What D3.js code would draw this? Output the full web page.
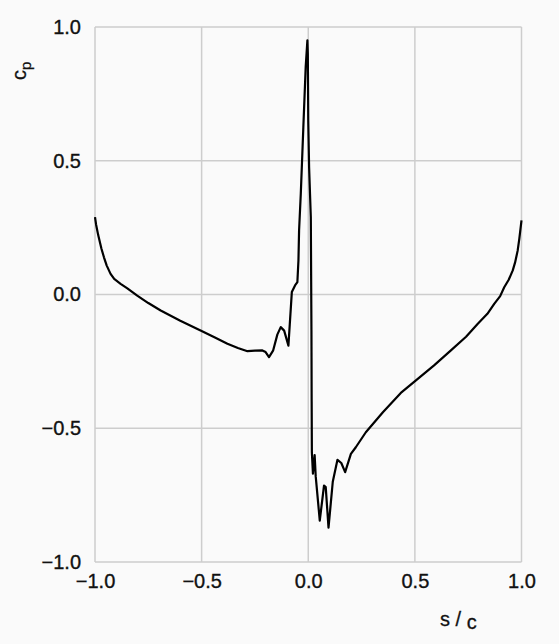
<!DOCTYPE html>
<html>
<head>
<meta charset="utf-8">
<script src="https://cdn.jsdelivr.net/npm/d3@7"></script>
<style>
  html, body { margin: 0; padding: 0; background: #fafafa; }
  svg { display: block; }
  text { font-family: "Liberation Sans", Arial, Helvetica, sans-serif; fill: #111; }
</style>
</head>
<body>
<svg id="chart" width="559" height="644"></svg>
<script>
// s/c positions along the surface
const sValues = [
  -1.0, -0.995, -0.985, -0.97, -0.958, -0.945, -0.927, -0.91, -0.88, -0.85,
  -0.802, -0.75, -0.692, -0.6, -0.505, -0.44, -0.379, -0.33, -0.285, -0.25,
  -0.215, -0.2, -0.184, -0.165, -0.145, -0.129, -0.113, -0.093,
  -0.077, -0.062, -0.051, -0.046, -0.043, -0.035, -0.023, -0.012, -0.004, -0.002,
  0.0, 0.004, 0.012, 0.015, 0.016, 0.017, 0.022, 0.030, 0.035, 0.054,
  0.074, 0.082, 0.095, 0.115, 0.137, 0.155, 0.173, 0.2, 0.223, 0.27,
  0.35, 0.434, 0.505, 0.59, 0.669, 0.74, 0.794, 0.84, 0.872, 0.9, 0.919, 0.94,
  0.959, 0.97, 0.982, 0.99, 1.0
];
// pressure coefficient c_p at each s/c
const cpValues = [
  0.289, 0.262, 0.222, 0.172, 0.139, 0.108, 0.077, 0.058, 0.040, 0.024,
  -0.004, -0.032, -0.060, -0.098, -0.135, -0.160, -0.184, -0.200, -0.212, -0.210,
  -0.209, -0.215, -0.234, -0.21, -0.15, -0.122, -0.135, -0.191,
  0.009, 0.034, 0.046, 0.127, 0.239, 0.376, 0.625, 0.85, 0.95, 0.90,
  0.65, 0.476, 0.289, -0.135, -0.40, -0.59, -0.67, -0.60, -0.68, -0.845,
  -0.714, -0.72, -0.872, -0.70, -0.618, -0.63, -0.664, -0.596, -0.571, -0.515,
  -0.44, -0.368, -0.321, -0.265, -0.209, -0.158, -0.110, -0.072, -0.035, -0.006, 0.027, 0.055,
  0.090, 0.120, 0.164, 0.210, 0.277
];
const xTicks = [-1.0, -0.5, 0.0, 0.5, 1.0];
const yTicks = [-1.0, -0.5, 0.0, 0.5, 1.0];

const margin = { left: 95, right: 559 - 521.5, top: 27, bottom: 644 - 562 };
const W = 559, H = 644;
const svg = d3.select("#chart");

const x = d3.scaleLinear().domain([-1, 1]).range([margin.left, W - margin.right]);
const y = d3.scaleLinear().domain([-1, 1]).range([H - margin.bottom, margin.top]);

const fmt = v => (v < 0 ? "\u2212" : "") + Math.abs(v).toFixed(1);

// grid
const grid = svg.append("g").attr("stroke", "#cdcdcd").attr("stroke-width", 1.5);
grid.selectAll("line.v").data(xTicks).join("line")
  .attr("x1", d => x(d)).attr("x2", d => x(d))
  .attr("y1", y(-1)).attr("y2", y(1));
grid.selectAll("line.h").data(yTicks).join("line")
  .attr("y1", d => y(d)).attr("y2", d => y(d))
  .attr("x1", x(-1)).attr("x2", x(1));

// axes (labels only, via d3 axis)
const xAxis = svg.append("g")
  .attr("transform", `translate(0,${y(-1)})`)
  .call(d3.axisBottom(x).tickValues(xTicks).tickFormat(fmt).tickSize(0).tickPadding(12));
const yAxis = svg.append("g")
  .attr("transform", `translate(${x(-1)},0)`)
  .call(d3.axisLeft(y).tickValues(yTicks).tickFormat(fmt).tickSize(0).tickPadding(14));
[xAxis, yAxis].forEach(a => {
  a.select(".domain").remove();
  a.selectAll("text").attr("font-size", 20).attr("fill", "#111")
    .attr("stroke", "#111").attr("stroke-width", 0.35)
    .style("font-family", '"Liberation Sans", Arial, sans-serif');
});

// curve
const pts = sValues.map((s, i) => [s, cpValues[i]]);
svg.append("path")
  .datum(pts)
  .attr("fill", "none")
  .attr("stroke", "#000")
  .attr("stroke-width", 2.2)
  .attr("stroke-linejoin", "round")
  .attr("d", d3.line().x(d => x(d[0])).y(d => y(d[1])).curve(d3.curveLinear));

// y label: c_p rotated
const yl = svg.append("text")
  .attr("transform", "translate(26,80) rotate(-90)")
  .attr("font-size", 20).attr("stroke", "#111").attr("stroke-width", 0.3);
yl.append("tspan").text("c");
yl.append("tspan").attr("font-size", 15).attr("dy", 5).text("p");

// x label: s / c
const xl = svg.append("text")
  .attr("x", 440).attr("y", 626)
  .attr("font-size", 20).attr("stroke", "#111").attr("stroke-width", 0.3);
xl.append("tspan").text("s / ");
xl.append("tspan").attr("dy", 3).text("c");
</script>
</body>
</html>
